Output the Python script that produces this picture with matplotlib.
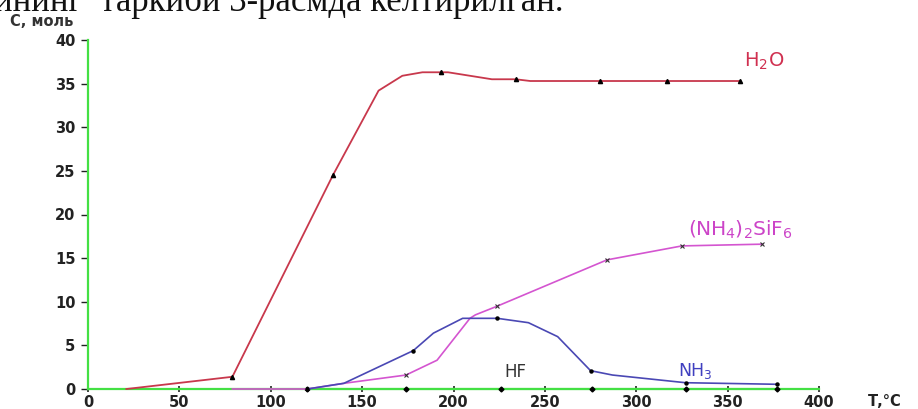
import matplotlib
matplotlib.use("Agg")
import matplotlib.pyplot as plt

# ---- data ----
h2o_t = [21, 79, 134, 159, 172, 183, 193, 197, 221, 234, 242, 280, 317, 357]
h2o_c = [0, 1.4, 24.5, 34.2, 35.9, 36.3, 36.3, 36.3, 35.5, 35.5, 35.3, 35.3, 35.3, 35.3]
h2o_mark = [1, 2, 6, 9, 11, 12, 13]

nh4_t = [79, 120, 140, 174, 191, 209, 212, 224, 284, 325, 369]
nh4_c = [0, 0, 0.65, 1.6, 3.3, 8.1, 8.5, 9.5, 14.8, 16.4, 16.6]
nh4_mark = [3, 7, 8, 9, 10]

nh3_t = [120, 140, 178, 189, 205, 224, 241, 257, 275, 287, 327, 377]
nh3_c = [0, 0.65, 4.4, 6.4, 8.1, 8.1, 7.6, 6.0, 2.1, 1.6, 0.72, 0.54]
nh3_mark = [0, 2, 5, 8, 10, 11]

hf_t = [120, 174, 226, 276, 327, 377]
hf_c = [0, 0, 0, 0, 0, 0]

x_ticks = [0, 50, 100, 150, 200, 250, 300, 350, 400]
y_ticks = [0, 5, 10, 15, 20, 25, 30, 35, 40]

W, H = 918, 409
fig = plt.figure(figsize=(W / 100, H / 100), dpi=100)
fig.patch.set_facecolor("white")

ax = fig.add_axes([88 / W, 1 - 389 / H, (819 - 88) / W, (389 - 40) / H])
ax.set_xlim(0, 400)
ax.set_ylim(0, 40)

red = "#c8384c"
mag = "#d455d0"
blue = "#4a48b4"
green = "#44e044"

ax.plot(hf_t, hf_c, color=green, lw=1.5, marker="D", ms=2.5, mfc="k", mec="k", clip_on=False, zorder=3)
ax.plot(nh4_t, nh4_c, color=mag, lw=1.2, clip_on=False, zorder=4)
ax.plot([nh4_t[i] for i in nh4_mark], [nh4_c[i] for i in nh4_mark], ls="none",
        marker="x", ms=3, mec="#333333", mew=0.8, clip_on=False, zorder=6)
ax.plot(nh3_t, nh3_c, color=blue, lw=1.2, clip_on=False, zorder=5)
ax.plot([nh3_t[i] for i in nh3_mark], [nh3_c[i] for i in nh3_mark], ls="none",
        marker="o", ms=2.2, mfc="k", mec="k", clip_on=False, zorder=6)
ax.plot(h2o_t, h2o_c, color=red, lw=1.3, clip_on=False, zorder=5)
ax.plot([h2o_t[i] for i in h2o_mark], [h2o_c[i] for i in h2o_mark], ls="none",
        marker="^", ms=3, mfc="k", mec="k", clip_on=False, zorder=6)

for s in ["top", "right"]:
    ax.spines[s].set_visible(False)
for s in ["left", "bottom"]:
    ax.spines[s].set_color(green)
    ax.spines[s].set_linewidth(1.6)

ax.set_xticks(x_ticks)
ax.set_yticks(y_ticks)
ax.tick_params(axis="y", direction="out", length=5, width=1, color="#222222",
               labelsize=10.5, pad=4, labelcolor="#222222")
ax.tick_params(axis="x", direction="inout", length=5, width=1.2, color="#222222",
               labelsize=10.5, pad=2, labelcolor="#222222")
for lbl in ax.get_xticklabels() + ax.get_yticklabels():
    lbl.set_fontweight("bold")
    lbl.set_fontfamily("DejaVu Sans")

# curve labels
ax.text(370, 37.6, "H$_2$O", color="#d03050", fontsize=14, ha="center", va="center")
ax.text(357, 18.2, "(NH$_4$)$_2$SiF$_6$", color="#cc44c8", fontsize=14.5, ha="center", va="center")
ax.text(234, 1.9, "HF", color="#333333", fontsize=12, ha="center", va="center")
ax.text(332, 2.1, "NH$_3$", color="#4040c0", fontsize=12.5, ha="center", va="center")

# axis titles
fig.text(10 / W, 1 - 22 / H, "С, моль", fontsize=10.5, fontweight="bold", color="#333333",
         ha="left", va="center")
fig.text(868 / W, 1 - 401 / H, "Т,°С", fontsize=10.5, fontweight="bold", color="#222222",
         ha="left", va="center")

# cropped caption line at the top
fig.text(-6 / W, 1 - 11 / H, "ининг  таркиби 3-расмда келтирилган.", fontsize=25,
         family="Liberation Serif", color="#111111", ha="left", va="baseline")

fig.savefig("out.png", dpi=100, facecolor="white")
